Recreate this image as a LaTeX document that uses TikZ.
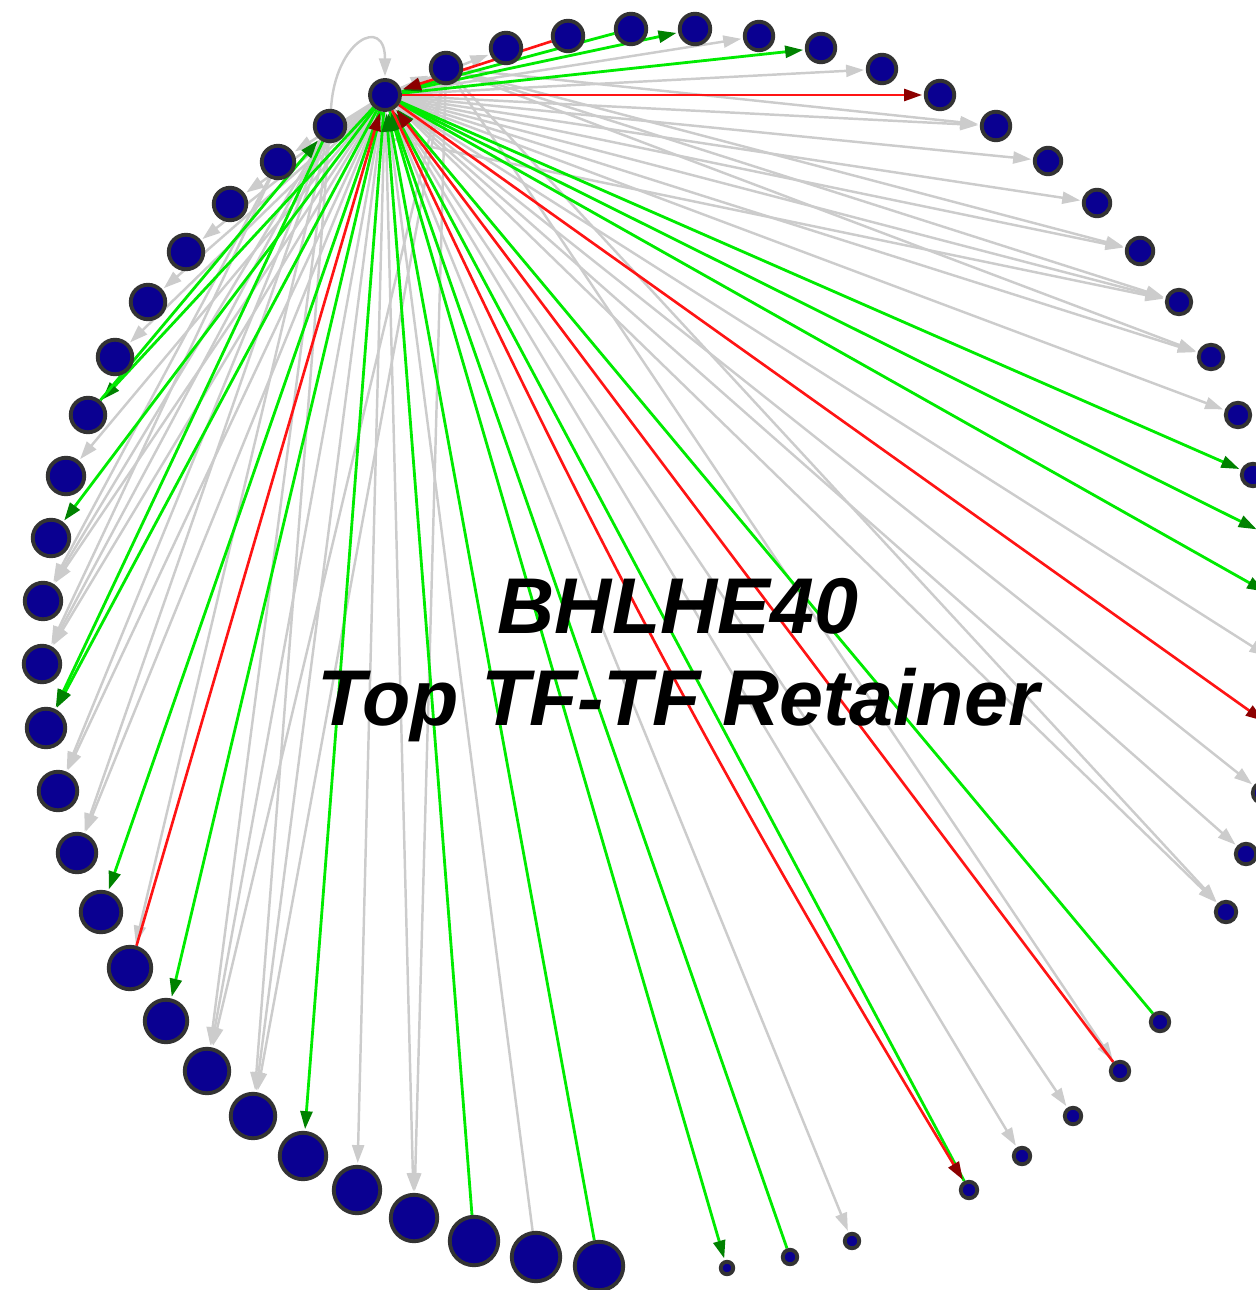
\documentclass[tikz,border=0pt]{standalone}
\usepackage{fontspec}
\usepackage{tikz}
\usetikzlibrary{arrows.meta}
\usetikzlibrary{backgrounds}
\newfontfamily\titlefont{Liberation Sans}
\definecolor{tfblue}{RGB}{10,0,145}
\definecolor{tfrim}{RGB}{51,51,51}
\definecolor{edgegray}{RGB}{204,204,204}
\definecolor{actgreen}{RGB}{0,235,0}
\definecolor{actdark}{RGB}{0,130,0}
\definecolor{repred}{RGB}{255,20,20}
\definecolor{repdark}{RGB}{140,0,0}
\tikzset{%
  tfnode/.style={circle, draw=tfrim, fill=tfblue, line width=2.2pt, inner sep=0pt},
  grayedge/.style={->, shorten >=1pt, line width=1.4pt, draw=edgegray, >={Triangle[length=0.36cm, width=0.24cm]}},
  greenedge/.style={->, shorten >=1pt, line width=1.6pt, draw=actgreen, >={Triangle[length=0.36cm, width=0.24cm, color=actdark]}},
  rededge/.style={->, shorten >=1pt, line width=1.5pt, draw=repred, >={Triangle[length=0.36cm, width=0.24cm, color=repdark]}}
}

\begin{document}
\begin{tikzpicture}[x=0.02cm, y=-0.02cm]
  \tikzset{titletext/.style={align=center, text=black, font=\titlefont\bfseries\itshape\fontsize{45}{52}\selectfont}};

\useasboundingbox (0,0) rectangle (1256,1290);

% hub
\node [tfnode, minimum size=0.6cm] (hub) at (385,95) {};

% ring of targets
\foreach \i/\x/\y/\r in {1/446/68/17, 2/506/48/17, 3/568/36/17, 4/631/29/17, 5/695/29/17,
  6/759/36/16, 7/821/48/16, 8/882/69/16, 9/940/95/16, 10/996/126/16,
  11/1048/161/15, 12/1097/203/15, 13/1140/251/15, 14/1179/302/14, 15/1211/357/14,
  16/1238/415/14, 17/1253/475/13, 18/1270/536/13, 19/1278/599/13, 20/1280/664/13,
  21/1275/729/12, 22/1263/793/12, 23/1246/854/12, 24/1226/912/12, 25/1160/1022/11,
  26/1120/1071/11, 27/1073/1116/10, 28/1022/1156/10, 29/969/1190/10, 30/852/1241/9,
  31/790/1257/9, 32/727/1268/8, 33/599/1266/26, 34/536/1257/26, 35/474/1241/26,
  36/414/1218/25, 37/357/1190/25, 38/303/1156/25, 39/253/1116/24, 40/207/1071/24,
  41/166/1021/23, 42/130/968/23, 43/101/912/22, 44/77/853/21, 45/58/791/21,
  46/46/728/21, 47/42/664/20, 48/43/601/20, 49/51/538/20, 50/66/476/20,
  51/88/415/19, 52/115/357/19, 53/148/302/19, 54/186/252/19, 55/230/204/18,
  56/278/162/18, 57/330/126/17}{
  \node [tfnode, minimum size=\r*0.04cm-0.07cm] (n\i) at (\x,\y) {};
}

\begin{scope}[on background layer]
% gray edges
\foreach \t in {1,2,6,8,10,11,12,13,14,15,16,20,22,23,24,27,28,30,36,37,39,40,44,45,47,48,50,52,53,54,55,56} {
  \draw [grayedge] (hub) -- (n\t);
}
\foreach \s/\t in {57/14, 57/39, 57/40, 57/42, 57/44, 57/45, 57/47, 57/48, 1/13, 1/14, 1/15, 1/24, 1/26, 1/36, 1/39, 1/40, 1/10, 56/47, 56/48} {
  \draw [grayedge] (n\s) -- (n\t);
}
\draw [grayedge] (n34) -- (hub);
\draw [grayedge] (n57) .. controls (335,40) and (385,15) .. (hub);

% green edges
\foreach \t in {5,7,17,18,19,32,38,41,43,46,49,51} {
  \draw [greenedge] (hub) -- (n\t);
}
\foreach \s in {4,25,29,31,33,35} {
  \draw [greenedge] (n\s) -- (hub);
}
\draw [greenedge] (n57) -- (n46);
\draw [greenedge] (n51) -- (n57);

% red edges
\draw [rededge] (hub) -- (n9);
\draw [rededge] (hub) -- (n21);
\draw [rededge] (hub) to[bend right=3] (n29);
\foreach \s in {3,26,42} {
  \draw [rededge] (n\s) -- (hub);
}
\end{scope}

\node [titletext] (title) at (678,660) {BHLHE40\\Top TF-TF Retainer};

\end{tikzpicture}
\end{document}
